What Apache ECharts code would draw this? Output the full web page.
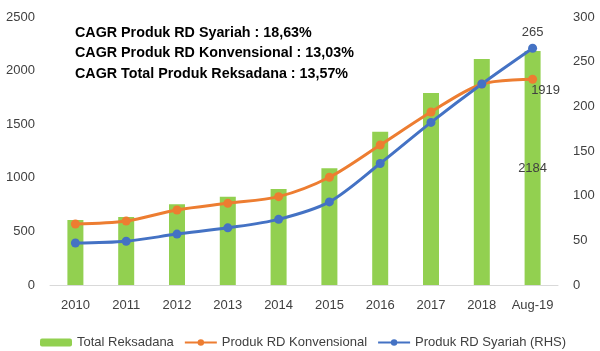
<!DOCTYPE html>
<html>
<head>
<meta charset="utf-8">
<script src="https://cdn.jsdelivr.net/npm/echarts@6/dist/echarts.min.js"></script>
<style>
html,body{margin:0;padding:0;background:#fff;}
#c{width:600px;height:351px;}
</style>
</head>
<body>
<div id="c"></div>
<script>
var categories = ['2010','2011','2012','2013','2014','2015','2016','2017','2018','Aug-19'];
var totalReksadana = [606, 634, 753, 824, 896, 1089, 1430, 1791, 2108, 2184];
var rdKonvensional = [569, 597, 700, 762, 824, 1005, 1306, 1614, 1875, 1919];
var rdSyariah = [47, 49, 57, 64, 73.5, 93, 136, 182, 225, 265];
var leftTicks = {min: 0, max: 2500, interval: 500};
var rightTicks = {min: 0, max: 300, interval: 50};
var cagrLines = [
  'CAGR Produk RD Syariah : 18,63%',
  'CAGR Produk RD Konvensional : 13,03%',
  'CAGR Total Produk Reksadana : 13,57%'
];
var seriesNames = ['Total Reksadana', 'Produk RD Konvensional', 'Produk RD Syariah (RHS)'];

var FONT = 'Liberation Sans';
var chart = echarts.init(document.getElementById('c'));
var last = categories.length - 1;

chart.setOption({
  animation: false,
  textStyle: {fontFamily: FONT},
  grid: {left: 50, right: 42, top: 17, bottom: 66, containLabel: false},
  legend: {
    left: 35, top: 331,
    itemWidth: 32, itemHeight: 8, itemGap: 10,
    textStyle: {fontSize: 13, color: '#404040', fontFamily: FONT},
    data: seriesNames
  },
  graphic: cagrLines.map(function (t, i) {
    return {
      type: 'text', left: 75, top: 26 + i * 20.5,
      style: {text: t, font: 'bold 14.3px "Liberation Sans"', fill: '#000'}
    };
  }),
  xAxis: {
    type: 'category', data: categories,
    axisLine: {lineStyle: {color: '#d9d9d9', width: 1}},
    axisTick: {show: false},
    axisLabel: {color: '#404040', fontSize: 13, margin: 14, interval: 0}
  },
  yAxis: [
    {
      type: 'value', min: leftTicks.min, max: leftTicks.max, interval: leftTicks.interval,
      axisLine: {show: false}, axisTick: {show: false}, splitLine: {show: false},
      axisLabel: {color: '#404040', fontSize: 13, margin: 15, formatter: function (v) { return String(v); }}
    },
    {
      type: 'value', min: rightTicks.min, max: rightTicks.max, interval: rightTicks.interval,
      position: 'right',
      axisLine: {show: false}, axisTick: {show: false}, splitLine: {show: false},
      axisLabel: {color: '#404040', fontSize: 13, margin: 15, formatter: function (v) { return String(v); }}
    }
  ],
  series: [
    {
      name: seriesNames[0], type: 'bar', yAxisIndex: 0, barWidth: 16,
      itemStyle: {color: '#92D050'},
      data: totalReksadana.map(function (v, i) {
        return i === last ? {value: v, label: {show: true, position: 'inside', color: '#404040', fontSize: 13}} : v;
      })
    },
    {
      name: seriesNames[1], type: 'line', yAxisIndex: 0, smooth: 0.3,
      symbol: 'circle', symbolSize: 9,
      lineStyle: {color: '#ED7D31', width: 3},
      itemStyle: {color: '#ED7D31'},
      data: rdKonvensional.map(function (v, i) {
        return i === last ? {value: v, label: {show: true, position: 'bottom', offset: [13, -5], color: '#404040', fontSize: 13}} : v;
      })
    },
    {
      name: seriesNames[2], type: 'line', yAxisIndex: 1, smooth: 0.3,
      symbol: 'circle', symbolSize: 9,
      lineStyle: {color: '#4472C4', width: 3},
      itemStyle: {color: '#4472C4'},
      data: rdSyariah.map(function (v, i) {
        return i === last ? {value: v, label: {show: true, position: 'top', color: '#404040', fontSize: 13}} : v;
      })
    }
  ]
});
</script>
</body>
</html>
